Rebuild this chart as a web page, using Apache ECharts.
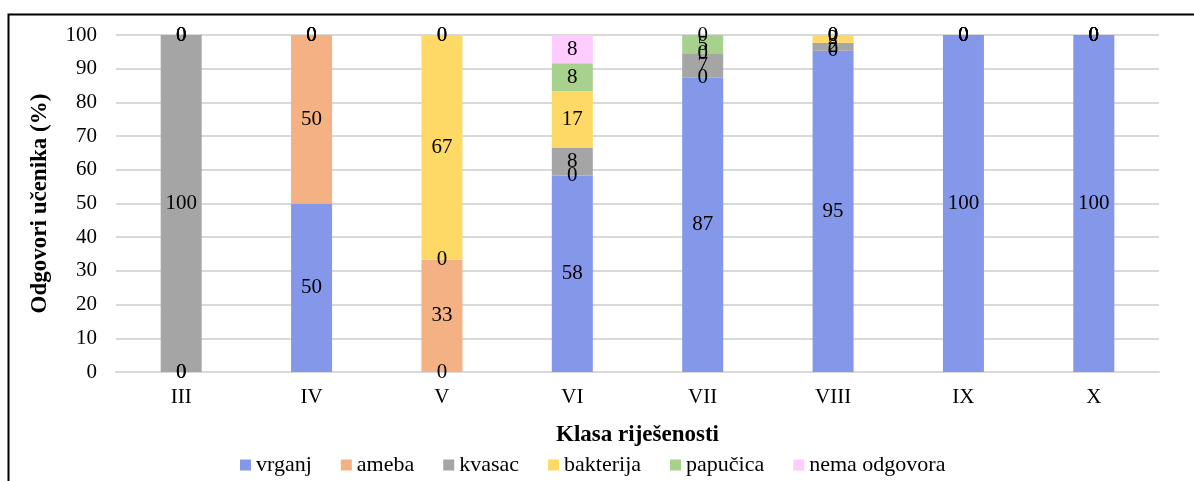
<!DOCTYPE html>
<html>
<head>
<meta charset="utf-8">
<script src="https://cdn.jsdelivr.net/npm/echarts@6/dist/echarts.min.js"></script>
<style>
  html, body { margin: 0; padding: 0; background: #fff; }
  #chart { width: 1194px; height: 481px; }
</style>
</head>
<body>
<div id="chart"></div>
<script>
// kategorije i vrijednosti (%)
const categories = ['III', 'IV', 'V', 'VI', 'VII', 'VIII', 'IX', 'X'];
const yTicks = [0, 10, 20, 30, 40, 50, 60, 70, 80, 90, 100];
const vrganj = [0, 50, 0, 58.3, 87.3, 95.3, 100, 100];
const ameba = [0, 50, 33.3, 0, 0, 0, 0, 0];
const kvasac = [100, 0, 0, 8.3, 7.3, 2.4, 0, 0];
const bakterija = [0, 0, 66.7, 16.7, 0, 2.3, 0, 0];
const papucica = [0, 0, 0, 8.3, 5.4, 0, 0, 0];
const nemaOdgovora = [0, 0, 0, 8.3, 0, 0, 0, 0];

const font = '"Liberation Serif", "Times New Roman", serif';

function makeSeries(name, data, color) {
    return {
        name: name,
        type: 'bar',
        stack: 'total',
        barWidth: 41,
        data: data,
        itemStyle: { color: color },
        label: {
            show: true,
            position: 'inside',
            color: '#000',
            fontFamily: font,
            fontSize: 21,
            formatter: function (p) {
                return Math.round(p.value);
            }
        }
    };
}

const chart = echarts.init(document.getElementById('chart'));

const options = {
    animation: false,
    textStyle: { fontFamily: font },
    graphic: [
        {
            type: 'rect',
            shape: { x: 8.5, y: 14.5, width: 1250, height: 520 },
            style: { fill: 'none', stroke: '#000', lineWidth: 2 },
            silent: true
        }
    ],
    grid: {
        left: 116,
        right: 35,
        top: 35,
        bottom: 109
    },
    legend: {
        bottom: 0,
        left: 235,
        itemWidth: 11,
        itemHeight: 11,
        itemGap: 29,
        icon: 'rect',
        textStyle: { fontFamily: font, fontSize: 22, color: '#000' },
        data: ['vrganj', 'ameba', 'kvasac', 'bakterija', 'papučica', 'nema odgovora']
    },
    xAxis: {
        type: 'category',
        data: categories,
        name: 'Klasa riješenosti',
        nameLocation: 'middle',
        nameGap: 52,
        nameTextStyle: { fontFamily: font, fontSize: 23, fontWeight: 'bold', color: '#000' },
        axisLine: { lineStyle: { color: '#d9d9d9', width: 2 } },
        axisTick: { show: false },
        axisLabel: { fontFamily: font, fontSize: 21, color: '#000', margin: 15 }
    },
    yAxis: {
        type: 'value',
        min: yTicks[0],
        max: yTicks[yTicks.length - 1],
        interval: 10,
        name: 'Odgovori učenika (%)',
        nameLocation: 'middle',
        nameGap: 64,
        nameRotate: 90,
        nameTextStyle: { fontFamily: font, fontSize: 23, fontWeight: 'bold', color: '#000' },
        axisLine: { show: false },
        axisTick: { show: false },
        axisLabel: { fontFamily: font, fontSize: 21, color: '#000', margin: 19 },
        splitLine: { lineStyle: { color: '#d9d9d9', width: 2 } }
    },
    series: [
        makeSeries('vrganj', vrganj, '#8497e8'),
        makeSeries('ameba', ameba, '#f4b183'),
        makeSeries('kvasac', kvasac, '#a5a5a5'),
        makeSeries('bakterija', bakterija, '#ffd966'),
        makeSeries('papučica', papucica, '#a9d18e'),
        makeSeries('nema odgovora', nemaOdgovora, '#ffccff')
    ]
};

chart.setOption(options);
</script>
</body>
</html>
